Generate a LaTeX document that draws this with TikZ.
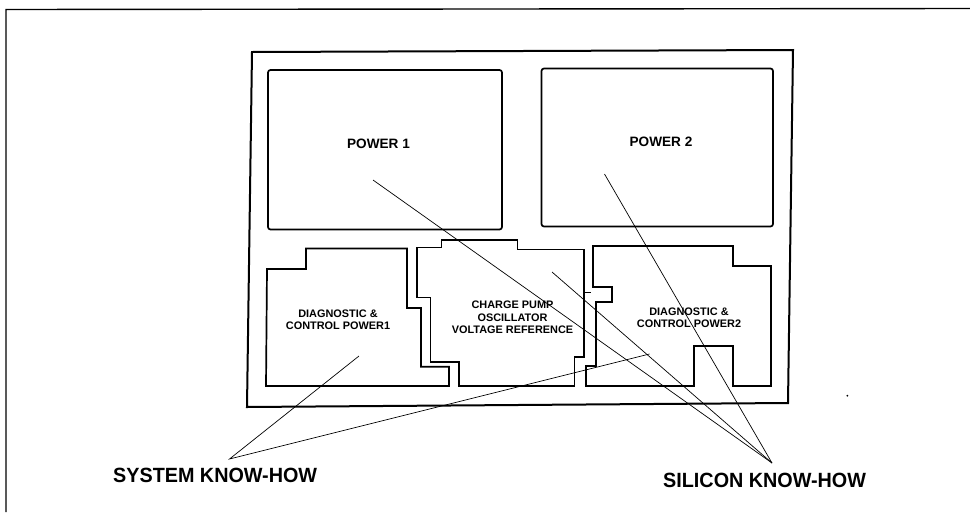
\documentclass[tikz,border=0pt]{standalone}
\usepackage{fontspec}
\setmainfont{Liberation Sans}
\newfontfamily\knowfont[FakeStretch=0.96]{Liberation Sans}
\begin{document}
\begin{tikzpicture}[x=1pt,y=-1pt,
  frame/.style={draw=black,line width=1.4pt},
  block/.style={draw=black,line width=1.7pt,line join=miter},
  leader/.style={draw=black,line width=0.7pt},
  blocklabel/.style={font=\bfseries\fontsize{10.9}{12.3}\selectfont,align=center,inner sep=0pt},
  powerlabel/.style={font=\bfseries\fontsize{13.6}{15}\selectfont,inner sep=0pt},
  knowlabel/.style={font=\knowfont\bfseries\fontsize{20.6}{23}\selectfont,inner sep=0pt,anchor=west}]
\useasboundingbox (0,0) rectangle (970,512);
\fill[white] (0,0) rectangle (970,512);
% page frame
\draw[frame] (6,512) -- (6,9.5) -- (970,8.5);
% chip outline
\draw[block,line width=2pt] (252,52) -- (793,50) -- (788,403) -- (247,407) -- cycle;
% power blocks
\draw[block,rounded corners=2.5pt] (268,70) rectangle (502,229.5);
\draw[block,rounded corners=2.5pt] (541.5,68.5) rectangle (773,226.5);
\node[powerlabel] (p1) at (378.5,143.5) {POWER 1};
\node[powerlabel] (p2) at (661,142) {POWER 2};
% diagnostic 1
\draw[block] (267,269) -- (306,269) -- (306,248.5) -- (407,248.5) -- (407,308) -- (421,308)
  -- (421,366.7) -- (449,366.7) -- (449,386) -- (266,386) -- cycle;
\node[blocklabel] (d1) at (338,320) {DIAGNOSTIC \&\\CONTROL POWER1};
% charge pump
\draw[block] (417,247.5) -- (441.5,247.5) -- (441.5,240) -- (517.5,240) -- (517.5,249.5)
  -- (584,249.5) -- (584,357) -- (574.5,357) -- (574.5,386) -- (459,386) -- (459,362)
  -- (430.5,362) -- (430.5,297.5) -- (417,297.5) -- cycle;
\draw[block] (584,292.5) -- (591,292.5);
\node[blocklabel] (cp) at (512.5,317.3) {CHARGE PUMP\\OSCILLATOR\\VOLTAGE REFERENCE};
% diagnostic 2
\draw[block] (593,246) -- (733,246) -- (733,266) -- (771,266) -- (771,386) -- (733,386)
  -- (733,346) -- (694,346) -- (694,386) -- (586,386) -- (586,366) -- (596,366)
  -- (596,302) -- (612,302) -- (612,287) -- (593,287) -- cycle;
\node[blocklabel] (d2) at (689,318) {DIAGNOSTIC \&\\CONTROL POWER2};
% stray dot
\fill (847.3,395.7) circle (1pt);
% leader end points
\coordinate (p1end) at (373,180);
\coordinate (p2end) at (604.5,174);
\coordinate (cpend) at (552,272);
\coordinate (d1end) at (359,356);
\coordinate (d2end) at (649.5,354);
\coordinate (sysapex) at (229.5,459);
\coordinate (siapex) at (772,463);
% labels
\node[knowlabel] (sys) at (113,475) {SYSTEM KNOW-HOW};
\node[knowlabel] (si) at (663,480) {SILICON KNOW-HOW};
% leaders
\draw[leader] (d1end) -- (sysapex) -- (d2end);
\draw[leader] (p1end) -- (siapex);
\draw[leader] (cpend) -- (siapex);
\draw[leader] (p2end) -- (siapex);
\end{tikzpicture}
\end{document}
